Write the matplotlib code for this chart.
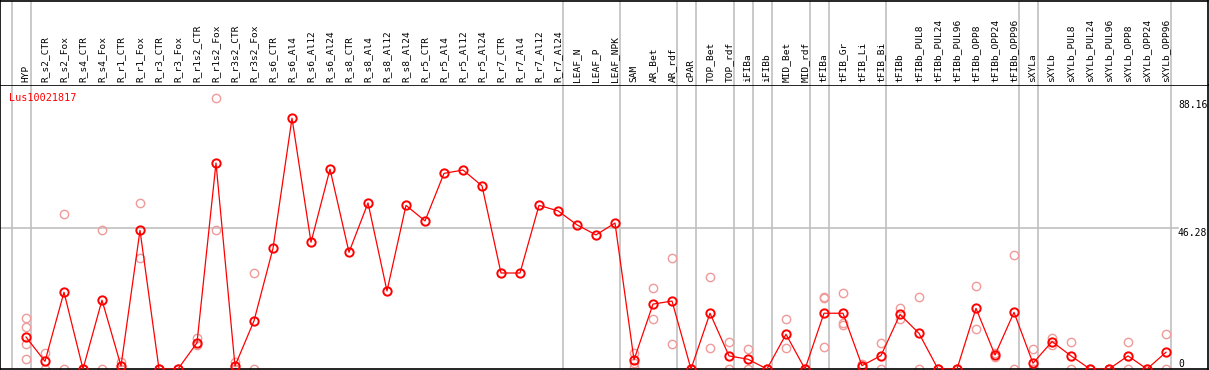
import matplotlib
matplotlib.use('Agg')
import matplotlib.pyplot as plt

# column names (sample types), in plotting order
columns = ['HYP', 'R_s2_CTR', 'R_s2_Fox', 'R_s4_CTR', 'R_s4_Fox', 'R_r1_CTR', 'R_r1_Fox',
           'R_r3_CTR', 'R_r3_Fox', 'R_r1s2_CTR', 'R_r1s2_Fox', 'R_r3s2_CTR', 'R_r3s2_Fox',
           'R_s6_CTR', 'R_s6_Al4', 'R_s6_Al12', 'R_s6_Al24', 'R_s8_CTR', 'R_s8_Al4',
           'R_s8_Al12', 'R_s8_Al24', 'R_r5_CTR', 'R_r5_Al4', 'R_r5_Al12', 'R_r5_Al24',
           'R_r7_CTR', 'R_r7_Al4', 'R_r7_Al12', 'R_r7_Al24', 'LEAF_N', 'LEAF_P', 'LEAF_NPK',
           'SAM', 'AR_Bet', 'AR_rdf', 'cPAR', 'TOP_Bet', 'TOP_rdf', 'iFIBa', 'iFIBb',
           'MID_Bet', 'MID_rdf', 'tFIBa', 'tFIB_Gr', 'tFIB_Li', 'tFIB_Bi', 'tFIBb',
           'tFIBb_PUL8', 'tFIBb_PUL24', 'tFIBb_PUL96', 'tFIBb_OPP8', 'tFIBb_OPP24',
           'tFIBb_OPP96', 'sXYLa', 'sXYLb', 'sXYLb_PUL8', 'sXYLb_PUL24', 'sXYLb_PUL96',
           'sXYLb_OPP8', 'sXYLb_OPP24', 'sXYLb_OPP96']

# mean expression per column
mean_vals = [10.5, 2.5, 25.2, 0, 22.6, 1.0, 45.5, 0, 0, 8.6, 67.6, 1.0, 15.8,
             39.6, 82.3, 41.6, 65.6, 38.3, 54.5, 25.6, 53.7, 48.6, 64.2, 65.3, 60.1,
             31.5, 31.5, 53.7, 51.9, 47.3, 44.0, 47.9,
             3.0, 21.3, 22.3, 0, 18.3, 4.3, 3.2, 0, 11.4, 0, 18.3, 18.3, 1.1, 4.4,
             17.9, 11.7, 0, 0, 19.9, 4.6, 18.6, 1.9, 9.0, 4.3, 0, 0, 4.3, 0, 5.5]

# replicate values per column
rep_vals = [[16.6, 13.7, 8.1, 3.2], [5.1, 0], [50.9, 0], [0, 0], [45.5, 0], [2.4, 0],
            [54.6, 36.3], [0, 0], [0, 0], [10.1, 7.9], [88.8, 45.5], [2.4, 0], [31.4, 0],
            [], [], [], [], [], [], [], [], [], [], [], [], [], [], [], [], [], [], [],
            [5.1, 1.9, 0.8], [26.5, 16.3], [36.3, 8.1], [0, 0], [30.1, 6.8], [8.8, 0],
            [6.6, 0], [0, 0], [16.3, 6.8], [0, 0], [23.7, 23.2, 7.1], [24.8, 15.0, 14.4],
            [1.6, 0.6], [8.4, 0], [19.9, 16.3], [23.5, 0], [0, 0], [0, 0], [27.1, 13.0],
            [5.1, 4.0], [37.3, 0], [6.6, 0, 0], [10.1, 8.0], [8.8, 0], [0, 0], [0, 0],
            [8.8, 0], [0, 0], [11.4, 0]]

# group boundaries (separator drawn after these column indices)
group_ends = [-1, 0, 28, 31, 34, 35, 37, 38, 39, 41, 42, 45, 52, 53, 60]

gene = 'Lus10021817'
y_ticks = [88.16, 46.28, 0]
mono = 'DejaVu Sans Mono'

W, H = 1209, 370
fig = plt.figure(figsize=(W / 100, H / 100), dpi=100)

# x range: column i sits at pixel 26 + 19*i
x0 = -26 / 19
x1 = (1208 - 26) / 19
ymax = 93.2

ax = fig.add_axes([0, 1 / H, 1208 / W, (369 - 85) / H])
hd = fig.add_axes([0, (369 - 85 + 1) / H, 1208 / W, 84 / H])

for a in (ax, hd):
    a.set_xlim(x0, x1)
    a.set_xticks([])
    a.set_yticks([])
    for s in a.spines.values():
        s.set_linewidth(1.2)
        s.set_color('black')
    for g in group_ends:
        a.axvline(g + 0.24, color='#c0c0c0', lw=1.2, zorder=0)

ax.set_ylim(0, ymax)
hd.set_ylim(0, 1)
hd.spines['bottom'].set_visible(False)

ax.axhline(46.28, xmin=0, xmax=1178 / 1208, color='#c0c0c0', lw=1.2, zorder=0)

xs = list(range(len(columns)))

# replicates
for i, reps in enumerate(rep_vals):
    ax.plot([i] * len(reps), reps, 'o', ms=6, mfc='none', mec='#f09a9a', mew=1.0,
            clip_on=True, zorder=2)

ax.plot(xs, mean_vals, '-', color='red', lw=0.9, zorder=3)
ax.plot(xs, mean_vals, 'o', ms=6, mfc='none', mec='red', mew=1.4, zorder=4)

# column labels in the header
for i, name in enumerate(columns):
    hd.text(i, 0.03, name, rotation=90, ha='center', va='bottom',
            fontsize=6.8, family=mono)

# value labels on the right
lx = (1178 - 26) / 19
for v in y_ticks:
    ax.text(lx, v, f'{v:g}', ha='left', va='bottom' if v == 0 else 'top',
            fontsize=7, family=mono)

ax.text((9 - 26) / 19, 89.0, gene, color='red', ha='left', va='center',
        fontsize=7.3, family=mono)

fig.savefig('out.png', dpi=100)
